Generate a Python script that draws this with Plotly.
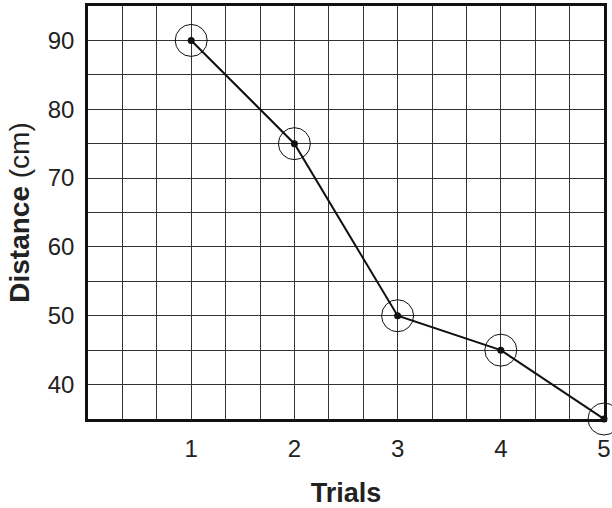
import plotly.graph_objects as go

trials = [1, 2, 3, 4, 5]
distance = [90, 75, 50, 45, 35]
x_ticks = [1, 2, 3, 4, 5]
y_ticks = [40, 50, 60, 70, 80, 90]

fig = go.Figure()
fig.add_trace(go.Scatter(
    x=trials, y=distance, mode="lines+markers",
    line=dict(color="#111111", width=2),
    marker=dict(size=7, color="#111111"),
    cliponaxis=False, showlegend=False,
))
fig.add_trace(go.Scatter(
    x=trials, y=distance, mode="markers",
    marker=dict(size=32, color="rgba(0,0,0,0)", line=dict(color="#111111", width=1)),
    cliponaxis=False, showlegend=False,
))

grid_col = "#333333"
fig.update_layout(
    width=612, height=508,
    margin=dict(l=88, r=8, t=6, b=89, autoexpand=False),
    paper_bgcolor="white", plot_bgcolor="white",
    font=dict(family="Liberation Sans, Arial, sans-serif", color="#222222", size=21),
    xaxis=dict(
        range=[0, 5], tickvals=x_ticks, ticks="", showgrid=True, automargin=False,
        gridcolor=grid_col, gridwidth=1.3, zeroline=False,
        showline=True, linecolor="#111111", linewidth=2.5, mirror=True,
        minor=dict(tickmode="linear", tick0=0, dtick=1/3, showgrid=True,
                   gridcolor=grid_col, gridwidth=1.3, ticks=""),
        tickfont=dict(size=24, color="#222222"),
        ticklabelstandoff=6,
        title=dict(text="<b>Trials</b>", font=dict(size=27), standoff=23),
    ),
    yaxis=dict(
        range=[35, 95], tickvals=y_ticks, ticks="", showgrid=True, automargin=False,
        gridcolor=grid_col, gridwidth=1.3, zeroline=False,
        showline=True, linecolor="#111111", linewidth=2.5, mirror=True,
        minor=dict(tickmode="linear", tick0=35, dtick=5, showgrid=True,
                   gridcolor=grid_col, gridwidth=1.3, ticks=""),
        tickfont=dict(size=24, color="#222222"),
        ticklabelstandoff=6,
        title=dict(text="<b>Distance</b> (cm)", font=dict(size=28), standoff=10),
    ),
)

fig.write_html("out.html", config={"displayModeBar": False},
               post_script="document.body.style.margin='0px';")
